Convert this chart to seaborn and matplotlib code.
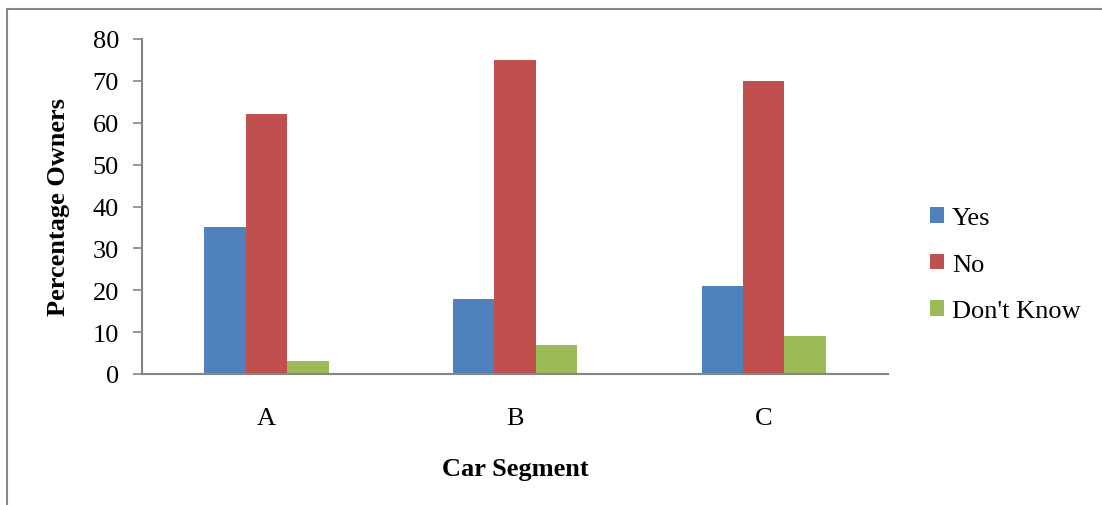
import pandas as pd
import numpy as np
import matplotlib
matplotlib.use("Agg")
import matplotlib.pyplot as plt
from matplotlib.patches import Rectangle, Patch
import seaborn as sns

segments = ["A", "B", "C"]
answers = ["Yes", "No", "Don't Know"]
yes_vals = [35, 18, 21]
no_vals = [62, 75, 70]
dont_know_vals = [3, 7, 9]
colors = ["#4F81BD", "#C0504D", "#9BBB59"]

rows = []
for i, seg in enumerate(segments):
    rows.append((seg, "Yes", yes_vals[i]))
    rows.append((seg, "No", no_vals[i]))
    rows.append((seg, "Don't Know", dont_know_vals[i]))
df = pd.DataFrame(rows, columns=["Segment", "Answer", "Pct"])

sns.set_style("white")
plt.rcParams['font.family'] = ['Liberation Serif', 'DejaVu Serif']
plt.rcParams['text.color'] = 'black'
plt.rcParams['xtick.labelcolor'] = 'black'
plt.rcParams['ytick.labelcolor'] = 'black'
plt.rcParams['axes.labelcolor'] = 'black'

fig = plt.figure(figsize=(11.02, 5.06), dpi=100)
ax = fig.add_axes([142/1102, 131/506, 746/1102, 335/506])

sns.barplot(data=df, x="Segment", y="Pct", hue="Answer", hue_order=answers,
            order=segments, palette=colors, width=0.5, gap=0, saturation=1,
            edgecolor="none", linewidth=0, ax=ax, legend=False)

ax.set_ylim(0, 80)
ax.set_xlim(-0.5, 2.5)
ax.set_yticks(np.arange(0, 81, 10))
ax.tick_params(axis="y", direction="out", length=6.5, width=1.2, color="#868686",
               labelsize=19, pad=10, left=True)
ax.tick_params(axis="x", length=0, labelsize=19, pad=24)
for side in ["top", "right"]:
    ax.spines[side].set_visible(False)
for side in ["left", "bottom"]:
    ax.spines[side].set_color("#868686")
    ax.spines[side].set_linewidth(1.5)

ax.set_xlabel("Car Segment", fontsize=19, fontweight="bold", labelpad=20)
ax.set_ylabel("Percentage Owners", fontsize=19, fontweight="bold", labelpad=16)

handles = [Patch(facecolor=c, edgecolor="none") for c in colors]
fig.legend(handles, answers, loc="center left", bbox_to_anchor=(0.822, 0.475),
           frameon=False, fontsize=19, handlelength=0.55, handleheight=0.55,
           handletextpad=0.3, labelspacing=0.92)

fig.add_artist(Rectangle((7/1102, -0.5), 2, 0.5 + 1 - 10/506, transform=fig.transFigure,
                         fill=False, edgecolor="#868686", linewidth=1.5))

fig.savefig("out.png", dpi=100)
